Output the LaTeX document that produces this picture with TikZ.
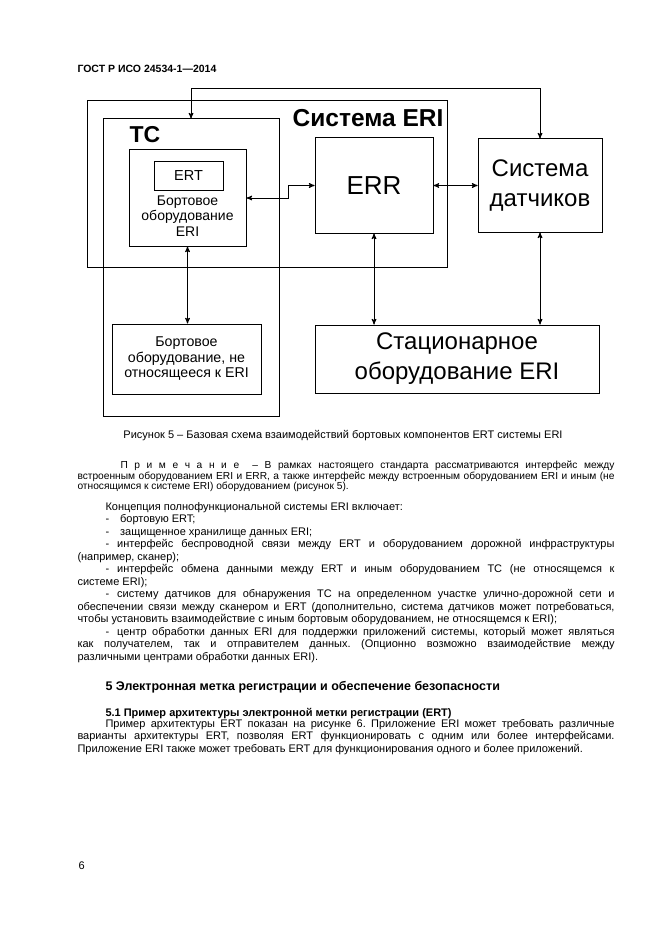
\documentclass[tikz,border=0pt]{standalone}
\usepackage{fontspec}
\setmainfont{Liberation Sans}
\usepackage{tikz}
\usetikzlibrary{arrows}
\newcommand{\fsz}[2]{\fontsize{#1}{#2}\selectfont}
\hyphenpenalty=10000
\exhyphenpenalty=10000
\tolerance=10000
\frenchspacing

\begin{document}
\begin{tikzpicture}[x=1pt,y=-1pt,>=stealth',line width=1pt,
                    box/.style={draw,inner sep=0pt,align=center},
                    lbl/.style={inner sep=0pt,align=center},
                    bodytext/.style={inner sep=0pt,text width=537pt,align=justify,
                                     font=\fsz{11}{12.5}}]
 \fill[white] (0,0) rectangle (661,936);
 \useasboundingbox (0,0) rectangle (661,936);

 % page header
 \node[lbl,anchor=base west,font=\bfseries\fsz{10.5}{12}] (head) at (77,73) {ГОСТ Р ИСО 24534-1—2014};

 % diagram boxes
 \node[box,minimum width=360,minimum height=166] (sys) at (267,184) {};
 \node[lbl,anchor=base,font=\bfseries\fsz{24.5}{28}] (systitle) at (368,127) {Система ERI};
 \node[box,minimum width=176,minimum height=297] (tc) at (191,267.5) {};
 \node[lbl,anchor=base,font=\bfseries\fsz{23}{26}] (tctitle) at (145,143) {ТС};
 \node[box,minimum width=117,minimum height=96] (onb) at (187.5,198) {};
 \node[box,minimum width=69,minimum height=28,font=\fsz{14.5}{16}] (ert) at (188.5,176) {ERT};
 \node[lbl,anchor=base,font=\fsz{14}{15.5}] (onbtext) at (187.5,236) {Бортовое\\оборудование\\ERI};
 \node[box,minimum width=118,minimum height=95,font=\fsz{26}{30}] (err) at (374,185.5) {ERR};
 \node[box,minimum width=124,minimum height=93,font=\fsz{24}{30}] (sens) at (540,185.5) {Система\\датчиков};
 \node[box,minimum width=284,minimum height=68,font=\fsz{24}{30}] (stat) at (457,359) {Стационарное\\оборудование ERI};
 \node[box,minimum width=149,minimum height=70,font=\fsz{14.2}{15.5}] (noneri) at (186.5,359)
      {Бортовое\\оборудование, не\\относящееся к ERI};

 % connectors
 \draw[<->] (tc.north) -- ++(0,-30) -| (sens.north);
 \draw[<->] (onb.east) -- ++(42,0) |- (err.west);
 \draw[<->] (err.east) -- (sens.west);
 \draw[<->] (err.south) -- (err.south |- stat.north);
 \draw[<->] (sens.south) -- (sens.south |- stat.north);
 \draw[<->] (onb.south) -- (onb.south |- noneri.north);

 \node[lbl,anchor=base,font=\fsz{11}{12.5}] (caption) at (343,438)
      {Рисунок 5 – Базовая схема взаимодействий бортовых компонентов ERT системы ERI};

 % note
 \node[bodytext,anchor=base west,font=\fsz{10.2}{9.3}] (note) at (77,468.5)
      {\hspace*{43pt}П р и м е ч а н и е\ \ – В рамках настоящего стандарта рассматриваются интерфейс между\linebreak
       встроенным оборудованием ERI и ERR, а также интерфейс между встроенным оборудованием ERI и иным (не\linebreak
       относящимся к системе ERI) оборудованием (рисунок 5).};

 % list of the ERI system
 \node[bodytext,anchor=base west] (concept) at (77,510)
      {\hspace*{28pt}Концепция полнофункциональной системы ERI включает:\par
       \hspace*{28pt}-\hspace{11pt}бортовую ERT;\par
       \hspace*{28pt}-\hspace{11pt}защищенное хранилище данных ERI;\par
       \hspace*{28pt}-\hspace{8pt}интерфейс беспроводной связи между ERT и оборудованием дорожной инфраструктуры\linebreak
       (например, сканер);\par
       \hspace*{28pt}-\hspace{8pt}интерфейс обмена данными между ERT и иным оборудованием ТС (не относящемся к\linebreak
       системе ERI);\par
       \hspace*{28pt}-\hspace{8pt}систему датчиков для обнаружения ТС на определенном участке улично-дорожной сети и\linebreak
       обеспечении связи между сканером и ERT (дополнительно, система датчиков может потребоваться,\linebreak
       чтобы установить взаимодействие с иным бортовым оборудованием, не относящемся к ERI);\par
       \hspace*{28pt}-\hspace{8pt}центр обработки данных ERI для поддержки приложений системы, который может являться\linebreak
       как получателем, так и отправителем данных. (Опционно возможно взаимодействие между\linebreak
       различными центрами обработки данных ERI).};

 % section 5
 \node[lbl,anchor=base west,font=\bfseries\fsz{12.5}{14}] (sec5) at (105,690.5)
      {5 Электронная метка регистрации и обеспечение безопасности};
 \node[lbl,anchor=base west,font=\bfseries\fsz{11}{12.5}] (sec51) at (105,716)
      {5.1 Пример архитектуры электронной метки регистрации (ERT)};
 \node[bodytext,anchor=base west] (ertpara) at (77,727)
      {\hspace*{28pt}Пример архитектуры ERT показан на рисунке 6. Приложение ERI может требовать различные\linebreak
       варианты архитектуры ERT, позволяя ERT функционировать с одним или более интерфейсами.\linebreak
       Приложение ERI также может требовать ERT для функционирования одного и более приложений.};

 \node[lbl,anchor=base west,font=\fsz{11}{12.5}] (pagenum) at (78,869) {6};
\end{tikzpicture}
\end{document}
